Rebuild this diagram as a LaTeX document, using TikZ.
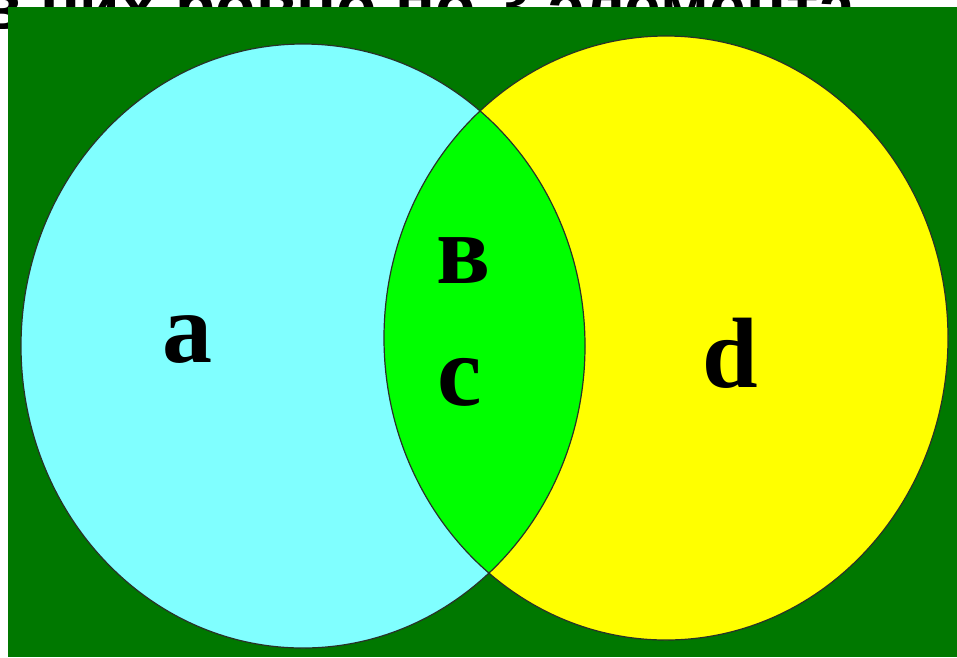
\documentclass[tikz,border=0pt]{standalone}
\usepackage{fontspec}
\setmainfont{Liberation Serif}
\newfontfamily\titlefont{Liberation Sans}
\definecolor{bgdark}{RGB}{0,120,0}
\definecolor{cyanfill}{RGB}{128,255,255}
\definecolor{yellowfill}{RGB}{255,255,0}
\definecolor{limefill}{RGB}{0,255,0}
\definecolor{edge}{RGB}{40,50,40}
\tikzset{
  setlabel/.style={font=\fontsize{100}{100}\selectfont\bfseries, anchor=base, inner sep=0pt},
  setedge/.style={draw=edge, line width=1.2pt},
}
\begin{document}
\begin{tikzpicture}[x=1pt,y=-1pt]
\useasboundingbox (0,0) rectangle (957,657);
\fill[white] (0,0) rectangle (957,657);
\node[anchor=base west, inner sep=0pt, font=\titlefont\fontsize{66}{66}\selectfont\bfseries] (title) at (-19,29) {в них ровно по 3 элемента};
\fill[bgdark] (8,7) rectangle (957,657);
\fill[cyanfill] (303,346) ellipse [x radius=282, y radius=302];
\fill[yellowfill] (666,338) ellipse [x radius=282, y radius=302];
\begin{scope}
  \clip (303,346) ellipse [x radius=282, y radius=302];
  \fill[limefill] (666,338) ellipse [x radius=282, y radius=302];
\end{scope}
\draw[setedge] (303,346) ellipse [x radius=282, y radius=302];
\draw[setedge] (666,338) ellipse [x radius=282, y radius=302];
\node[setlabel] (a) at (187,362) {a};
\node[setlabel] (b) at (463,283) {в};
\node[setlabel] (c) at (460,405) {c};
\node[setlabel] (d) at (730,387) {d};
\end{tikzpicture}
\end{document}
